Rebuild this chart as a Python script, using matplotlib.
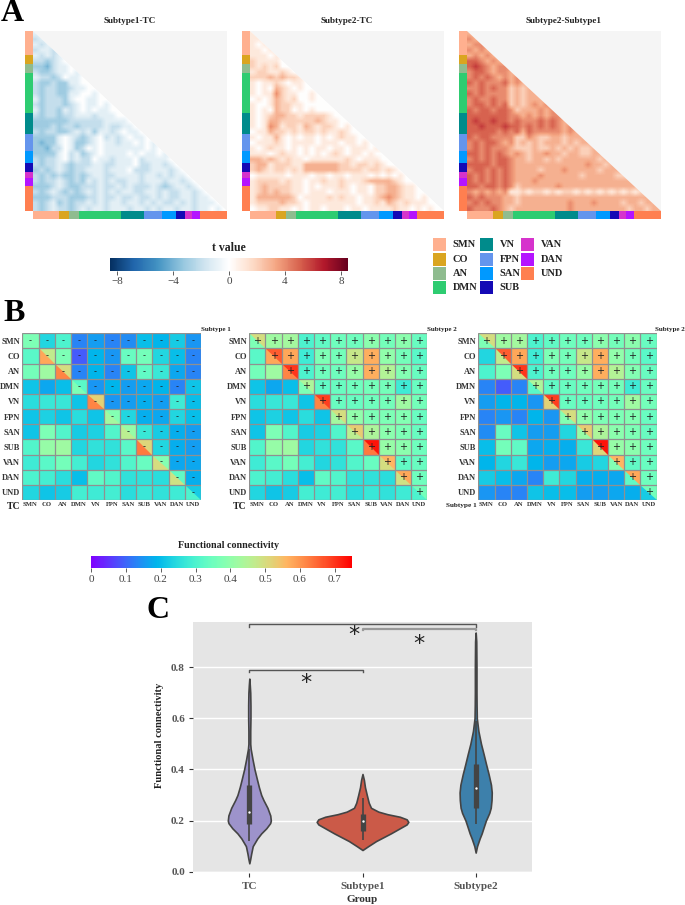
import numpy as np
import matplotlib
matplotlib.use('Agg')
import matplotlib.pyplot as plt
from matplotlib.colors import LinearSegmentedColormap, Normalize
from matplotlib.cm import ScalarMappable
from matplotlib.patches import Polygon, Rectangle

W, H = 685, 905
plt.rcParams['font.family'] = ['Liberation Serif', 'DejaVu Serif']

networks = ['SMN', 'CO', 'AN', 'DMN', 'VN', 'FPN', 'SAN', 'SUB', 'VAN', 'DAN', 'UND']
network_sizes = [35, 14, 13, 58, 31, 25, 18, 13, 9, 11, 37]
network_colors = ['#FFB08F', '#DAA520', '#8FBC8F', '#2ECC71', '#008B8B', '#6495ED',
                  '#0099FF', '#1409B5', '#D633CC', '#B414FF', '#FF7F50']

# panel A, rough |t| per block of 8 nodes, lower triangle only
t_sub1_tc = """1
21
121
2112
12121
223210
3342110
23321101
122320110
2332331100
23223321100
232233110010
1322231001100
23222321011010
132231210101100
2322322111211100
33333322222211110
333232232222122110
2322332121311210110
33331012321021210110
343310133210112110101
3342201320101111111010
33331021321011110101101
232210212201121110211110
2322123222112211102211210
32321232211121110222111210
232323323211221111211212110
2322123231212122112111211210
33321233222122121222123211210
232123232121212112211212211210
3332223332212212212212122112110
23213232212121121121212212121110
232122321211211121121211211211010""".split()

t_sub2_tc = """1
11
101
1101
11101
211110
2121200
12211210
222323221
1011210110
10103210100
101142110010
0101321200100
10013221100000
101032201010000
1012332212222100
10133222222321100
101431221321221010
0113221212212112100
10113101011010121100
011121011110111011010
1012110101011011011101
11101211010101210110100
332321211011111121011100
2331222113333332212212100
23212212133333322221221210
011111011101101101110101010
1222212110112112111233332100
12322221101011121011022332110
123232211011101110110223321100
1333333201111212110112343211010
12222322101111111101121321211100
011221101011011101101111211010100""".split()

t_sub2_sub1 = """3
43
344
4343
34343
554343
5654344
45543443
454543434
5454445343
44545442323
545444423233
4544544232333
45545452323434
545545542333434
5555555443434344
56556554544454543
556555655454545434
5555545453544444343
54554444224322332333
454554342323233323233
4545444322232232323223
55454543432334332332233
454545543323323233333323
5555455433333333333343323
45545454333323334333332333
545454543333433333323333322
5454545433343333333333333333
55455454233333343333333333333
434343411212212122121212121212
5454443323333333333333333333333
45454433233333333433343333233233
544454323333333334333333333233233""".split()

# panel B, lower triangles of the network by network connectivity
fc_tc = [[.32], [.36, .42], [.21, .17, .20], [.25, .27, .27, .21],
         [.21, .23, .21, .25, .21], [.21, .37, .31, .22, .23, .31],
         [.31, .41, .42, .24, .26, .26, .32], [.28, .32, .36, .29, .24, .26, .31, .34],
         [.30, .29, .25, .20, .33, .31, .26, .26, .25],
         [.24, .21, .22, .29, .28, .29, .25, .27, .26, .28]]
fc_sub1 = [[.24], [.30, .37], [.13, .09, .13], [.16, .19, .19, .15],
           [.13, .15, .13, .19, .15], [.14, .34, .21, .16, .16, .24],
           [.20, .36, .33, .17, .18, .18, .27], [.19, .24, .27, .19, .16, .17, .22, .24],
           [.22, .20, .17, .13, .28, .24, .18, .18, .17],
           [.15, .13, .13, .21, .20, .20, .16, .16, .17, .18]]
fc_sub2 = [[.42], [.43, .58], [.30, .28, .30], [.33, .37, .35, .33],
           [.35, .36, .35, .34, .34], [.35, .48, .41, .35, .34, .40],
           [.39, .57, .57, .36, .35, .37, .44], [.36, .40, .45, .36, .36, .37, .39, .41],
           [.39, .36, .38, .28, .42, .38, .37, .39, .33],
           [.34, .32, .34, .34, .36, .34, .34, .35, .34, .35]]
diag_tc = [.37, .58, .62, .37, .62, .43, .46, .63, .50, .49, .30]
diag_sub1 = [.37, .47, .50, .32, .52, .38, .41, .51, .38, .33, .22]
diag_sub2 = [.50, .66, .70, .44, .69, .50, .53, .73, .56, .58, .36]

# panel C, violin outlines: level and half width
violin_names = ['TC', 'Subtype1', 'Subtype2']
violin_colors = ['#9D93CB', '#CB5A48', '#3D80AB']
tc_y = [.033, .05, .07, .10, .13, .15, .17, .19, .20, .22, .25, .28, .30, .33, .36, .40, .44, .48, .50, .55, .60, .65, .70, .73, .755]
tc_w = [0, .008, .016, .03, .07, .105, .15, .184, .19, .185, .16, .125, .105, .085, .068, .046, .028, .012, .008, .008, .01, .01, .008, .004, 0]
sub1_y = [.085, .10, .12, .15, .17, .185, .195, .205, .215, .225, .235, .25, .27, .30, .33, .36, .382]
sub1_w = [0, .05, .12, .25, .33, .39, .405, .39, .33, .22, .14, .075, .055, .038, .022, .012, 0]
sub2_y = [.075, .10, .13, .15, .18, .20, .23, .25, .28, .31, .34, .38, .42, .46, .50, .55, .60, .65, .70, .80, .90, .935]
sub2_w = [0, .012, .035, .053, .075, .09, .12, .133, .14, .142, .135, .115, .092, .07, .047, .024, .01, .008, .007, .007, .005, 0]
whisker_low = [.12, .125, .185]
whisker_high = [.48, .29, .59]
q1 = [.187, .16, .25]
q3 = [.34, .225, .42]
medians = [.235, .197, .328]

fig = plt.figure(figsize=(W / 100, H / 100), dpi=100, facecolor='white')


def px_axes(x0, y0, x1, y1):
    return fig.add_axes([x0 / W, 1 - y1 / H, (x1 - x0) / W, (y1 - y0) / H])


def px_text(x, y, s, **kw):
    kw.setdefault('ha', 'center')
    kw.setdefault('va', 'center')
    kw.setdefault('fontweight', 'bold')
    fig.text(x / W, 1 - y / H, s, **kw)


for letter, x, y in [('A', 12, 21), ('B', 14, 321), ('C', 158, 618)]:
    px_text(x, y, letter, fontsize=23, color='black', va='baseline')

# Panel A
t_cmap = LinearSegmentedColormap.from_list('t_map', ['#053061', '#2166ac', '#4393c3', '#92c5de', '#d1e5f0', '#ffffff',
                                                     '#fddbc7', '#f4a582', '#d6604d', '#b2182b', '#67001f'])
t_norm = Normalize(-8.5, 8.5)
total = sum(network_sizes)
edges = np.cumsum([0] + network_sizes)


def matrix_panel(x0, rows, sign, title):
    n = len(rows)
    grid = np.zeros((n, n))
    for i, row in enumerate(rows):
        vals = [float(c) for c in row]
        grid[i, :len(vals)] = vals
        grid[i, len(vals):] = vals[-1]
    x1, y0, y1 = x0 + 194, 31, 211
    ax = px_axes(x0, y0, x1, y1)
    ax.set_facecolor('#F5F5F5')
    ax.set_xlim(0, total)
    ax.set_ylim(total, 0)
    ax.axis('off')
    ax.add_patch(Polygon([(0, 0), (0, total), (total, total)], facecolor='white', edgecolor='none', zorder=1))
    ax.add_patch(Polygon([(0, 0), (total, 0), (total, total)], facecolor='#F5F5F5', edgecolor='none', zorder=1))
    im = ax.imshow(sign * grid, cmap=t_cmap, norm=t_norm, extent=(0, total, total, 0),
                   aspect='auto', interpolation='bilinear', zorder=2)
    im.set_clip_path(Polygon([(0, 0), (0, total), (total, total)], transform=ax.transData))
    left = px_axes(x0 - 8, y0, x0, y1)
    bottom = px_axes(x0, y1, x1, y1 + 8)
    for k, c in enumerate(network_colors):
        left.add_patch(Rectangle((0, edges[k]), 1, network_sizes[k], facecolor=c, edgecolor='none'))
        bottom.add_patch(Rectangle((edges[k], 0), network_sizes[k], 1, facecolor=c, edgecolor='none'))
    left.set_xlim(0, 1)
    left.set_ylim(total, 0)
    left.axis('off')
    bottom.set_xlim(0, total)
    bottom.set_ylim(0, 1)
    bottom.axis('off')
    px_text((x0 + x1) / 2, 21, title, fontsize=6.6, color='#222222')


matrix_panel(33, t_sub1_tc, -1, 'Subtype1-TC')
matrix_panel(250, t_sub2_tc, 1, 'Subtype2-TC')
matrix_panel(467, t_sub2_sub1, 1, 'Subtype2-Subtype1')

cax = px_axes(110, 258, 348, 271)
cb = fig.colorbar(ScalarMappable(norm=t_norm, cmap=t_cmap), cax=cax, orientation='horizontal')
cb.set_ticks([-8, -4, 0, 4, 8])
cb.outline.set_visible(False)
cax.tick_params(labelsize=8, length=3, width=0.6, pad=1.5, colors='#444444')
px_text(229, 248, 't value', fontsize=8.5, color='#222222')

legend_x = [433, 480, 521]
legend_y = [244.5, 259, 273, 287]
legend_ax = fig.add_axes([0, 0, 1, 1], facecolor='none')
legend_ax.set_xlim(0, W)
legend_ax.set_ylim(H, 0)
legend_ax.axis('off')
slots = [(0, 0), (0, 1), (0, 2), (0, 3), (1, 0), (1, 1), (1, 2), (1, 3), (2, 0), (2, 1), (2, 2)]
for (col, row), name, c in zip(slots, networks, network_colors):
    legend_ax.add_patch(Rectangle((legend_x[col], legend_y[row] - 6.5), 13, 13, facecolor=c, edgecolor='none'))
    px_text(legend_x[col] + 19.5, legend_y[row], name, fontsize=7.5, ha='left', color='#222222')

# Panel B
fc_norm = Normalize(0, 0.75)
fc_cmap = plt.cm.rainbow


def full_lower(tri, diag):
    m = np.full((11, 11), np.nan)
    for i, row in enumerate(tri):
        m[i + 1, :len(row)] = row
    m[np.arange(11), np.arange(11)] = diag
    return m


def fc_panel(x0, x1, low, low_diag, up, up_diag, mark, title, corner, corner_x, mark_size):
    y0, y1 = 333.3, 500
    ax = px_axes(x0, y0, x1, y1)
    lo = full_lower(low, low_diag)
    hi = full_lower(up, up_diag).T
    merged = np.where(np.isnan(lo), hi, lo)
    ax.pcolormesh(np.arange(12), np.arange(12), merged, cmap=fc_cmap, norm=fc_norm)
    for i in range(11):
        ax.fill([i, i, i + 1], [i, i + 1, i + 1], color=fc_cmap(fc_norm(low_diag[i])), lw=0)
        ax.fill([i, i + 1, i + 1], [i, i, i + 1], color=fc_cmap(fc_norm(up_diag[i])), lw=0)
    ax.hlines(np.arange(12), 0, 11, color='#909090', lw=0.9)
    ax.vlines(np.arange(12), 0, 11, color='#909090', lw=0.9)
    for i in range(11):
        for j in range(i, 11):
            ax.text(j + 0.5, i + 0.5, mark, ha='center', va='center', fontsize=mark_size,
                    color='#222222', family='DejaVu Sans')
    ax.set_xlim(0, 11)
    ax.set_ylim(11, 0)
    ax.set_xticks(np.arange(11) + 0.5, networks, fontsize=4.8, fontweight='bold', color='#333333')
    ax.set_yticks(np.arange(11) + 0.5, networks, fontsize=6, fontweight='bold', color='#333333')
    ax.tick_params(length=0, pad=1.5)
    for s in ax.spines.values():
        s.set_visible(False)
    px_text(min(x1, 655), 329, title, fontsize=5, ha='left', color='#222222')
    if corner == 'TC':
        px_text(corner_x, 506, corner, fontsize=7, color='#222222')
    else:
        px_text(corner_x, 505.5, corner, fontsize=5.2, ha='right', color='#222222')


fc_panel(22.3, 201.3, fc_tc, diag_tc, fc_sub1, diag_sub1, '-', 'Subtype 1', 'TC', 14, 6)
fc_panel(249.3, 427.3, fc_tc, diag_tc, fc_sub2, diag_sub2, '+', 'Subtype 2', 'TC', 240, 7)
fc_panel(478.3, 656.7, fc_sub1, diag_sub1, fc_sub2, diag_sub2, '+', 'Subtype 2', 'Subtype 1', 476.5, 7)

cax2 = px_axes(91.3, 556, 352, 568)
cb2 = fig.colorbar(ScalarMappable(norm=fc_norm, cmap=fc_cmap), cax=cax2, orientation='horizontal')
cb2.set_ticks([0, .1, .2, .3, .4, .5, .6, .7], labels=['0', '0.1', '0.2', '0.3', '0.4', '0.5', '0.6', '0.7'])
cb2.outline.set_visible(False)
cax2.tick_params(labelsize=8, length=3, width=0.6, pad=2, colors='#444444')
px_text(229, 545.5, 'Functional connectivity', fontsize=7.2, color='#222222')

# Panel C
ax = px_axes(193.3, 622.3, 531.7, 873.3)
ax.set_facecolor('#E5E5E5')
ax.set_xlim(-0.495, 2.495)
ax.set_ylim(-0.006, 0.975)
ax.set_axisbelow(True)
ax.grid(axis='y', color='white', lw=1.0)
ax.axhline(0, color='white', lw=1.0, zorder=1)
violin_y = [tc_y, sub1_y, sub2_y]
violin_w = [tc_w, sub1_w, sub2_w]
for k in range(3):
    y = np.array(violin_y[k])
    w = np.array(violin_w[k])
    ax.fill_betweenx(y, k - w, k + w, facecolor=violin_colors[k], edgecolor='#444444', lw=1.2, zorder=3)
    ax.vlines(k, whisker_low[k], whisker_high[k], color='#444444', lw=1.2, zorder=4)
    ax.vlines(k, q1[k], q3[k], color='#444444', lw=3.8, zorder=4)
    ax.scatter([k], [medians[k]], s=3, color='white', zorder=5, lw=0)
ax.plot([0, 0, 1, 1], [.78, .787, .787, .78], color='#555555', lw=1, zorder=6, clip_on=False)
ax.plot([0, 0, 2, 2], [.957, .967, .967, .957], color='#555555', lw=1, zorder=6, clip_on=False)
ax.plot([1, 1, 2, 2], [.943, .948, .948, .943], color='#999999', lw=1.6, zorder=6)
for x, y in [(.5, .739), (.925, .926), (1.5, .889)]:
    ax.text(x, y, '*', fontsize=16, ha='center', va='center', color='#222222', family='DejaVu Sans')
ax.set_xticks([0, 1, 2], violin_names, fontsize=8, fontweight='bold', color='#555555')
ax.set_yticks([0, .2, .4, .6, .8], ['0.0', '0.2', '0.4', '0.6', '0.8'], fontsize=8, fontweight='bold', color='#555555')
ax.tick_params(length=3, width=0.8, color='#333333', pad=3)
for s in ax.spines.values():
    s.set_visible(False)
px_text(362, 899, 'Group', fontsize=8, color='#333333')
px_text(160, 735, 'Functional connectivity', fontsize=7.6, rotation=90, color='#222222')

fig.savefig('out.png', dpi=100)
